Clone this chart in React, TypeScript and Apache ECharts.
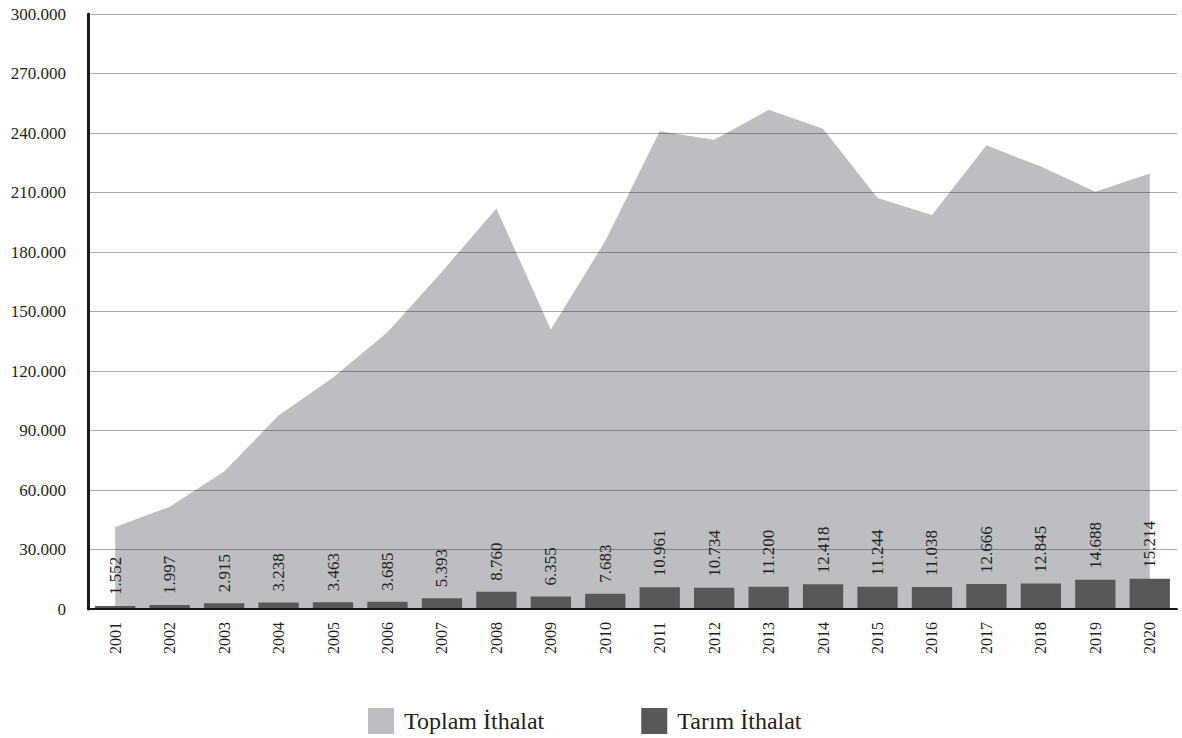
import React, { useEffect, useRef } from "react";
import * as echarts from "echarts";

const years = ["2001","2002","2003","2004","2005","2006","2007","2008","2009","2010","2011","2012","2013","2014","2015","2016","2017","2018","2019","2020"];
const toplamIthalat = [41399, 51554, 69340, 97540, 116774, 139576, 170063, 201964, 140928, 185544, 240842, 236545, 251661, 242177, 207234, 198618, 233800, 223047, 210345, 219517];
const tarimIthalat = [1552, 1997, 2915, 3238, 3463, 3685, 5393, 8760, 6355, 7683, 10961, 10734, 11200, 12418, 11244, 11038, 12666, 12845, 14688, 15214];
const yTicks = [0, 30000, 60000, 90000, 120000, 150000, 180000, 210000, 240000, 270000, 300000];

const fmt = (v: number) => String(v).replace(/\B(?=(\d{3})+(?!\d))/g, ".");
const FONT = "'Liberation Serif', 'DejaVu Serif', serif";
const TXT = "#231f20";

export default function App() {
  const ref = useRef<HTMLDivElement>(null);
  useEffect(() => {
    const chart = echarts.init(ref.current!, null, { renderer: "svg" });
    chart.setOption({
      animation: false,
      textStyle: { fontFamily: FONT },
      grid: { left: 88, right: 5, top: 14, bottom: 129 },
      legend: {
        top: 703,
        left: 363,
        itemWidth: 26,
        itemHeight: 26,
        itemGap: 97,
        icon: "rect",
        textStyle: { fontFamily: FONT, fontSize: 24, color: TXT, padding: [0, 0, 0, 5] },
        data: ["Toplam İthalat", "Tarım İthalat"],
      },
      xAxis: {
        type: "category",
        data: years,
        boundaryGap: true,
        z: 4,
        axisLine: { lineStyle: { color: "#1a1a1a", width: 2 } },
        axisTick: { show: false },
        axisLabel: { rotate: 90, fontFamily: FONT, fontSize: 16, color: TXT, margin: 13 },
      },
      yAxis: {
        type: "value",
        min: yTicks[0],
        max: yTicks[yTicks.length - 1],
        interval: 30000,
        z: 4,
        axisLine: { show: true, lineStyle: { color: "#1a1a1a", width: 3 } },
        axisTick: { show: false },
        splitLine: { lineStyle: { color: "rgba(0,0,0,0.33)", width: 1 } },
        axisLabel: {
          fontFamily: FONT,
          fontSize: 17,
          color: TXT,
          margin: 22,
          formatter: (v: number) => fmt(v),
        },
      },
      series: [
        {
          name: "Toplam İthalat",
          type: "line",
          z: 1,
          data: toplamIthalat,
          symbol: "none",
          lineStyle: { width: 0 },
          itemStyle: { color: "#bdbec2" },
          areaStyle: { color: "#bdbec2", opacity: 1 },
        },
        {
          name: "Tarım İthalat",
          type: "bar",
          z: 2,
          data: tarimIthalat,
          barCategoryGap: "26%",
          itemStyle: { color: "#58585a" },
          label: {
            show: true,
            position: "top",
            rotate: 90,
            align: "left",
            verticalAlign: "middle",
            distance: 11,
            fontFamily: FONT,
            fontSize: 17,
            color: TXT,
            formatter: (p: any) => fmt(p.value),
          },
        },
      ],
    });
    return () => chart.dispose();
  }, []);
  return <div ref={ref} style={{ position: "absolute", left: 0, top: 0, width: 1182, height: 738 }} />;
}
